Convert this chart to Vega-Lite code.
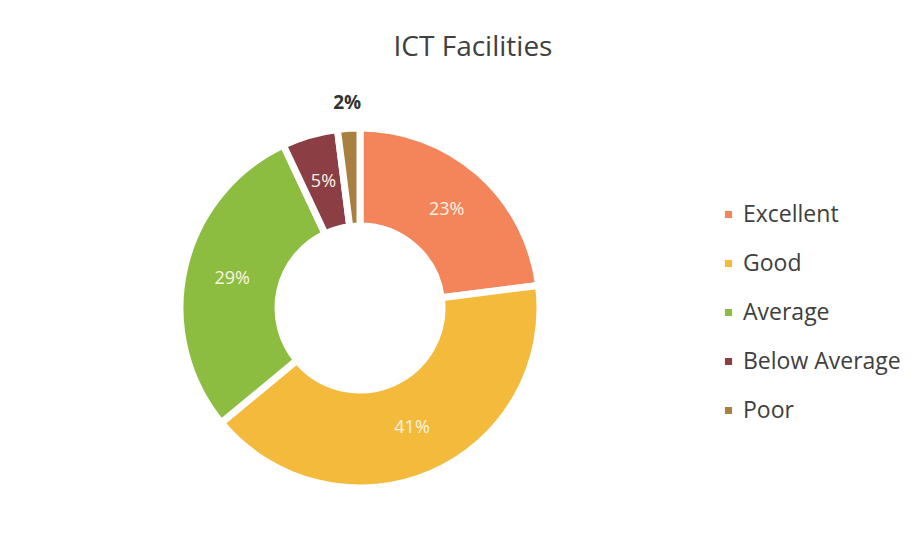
{
  "$schema": "https://vega.github.io/schema/vega-lite/v6.json",
  "autosize": "none",
  "width": 720,
  "height": 500,
  "padding": {"left": 0, "top": 58, "right": 204, "bottom": 0},
  "background": "white",
  "title": {
    "text": "ICT Facilities",
    "anchor": "middle",
    "dx": 113,
    "offset": -4,
    "fontSize": 28,
    "font": "Open Sans",
    "fontWeight": "normal",
    "color": "#404040"
  },
  "data": {
    "values": [
      {"category": "Excellent", "share": 0.23, "rank": 1},
      {"category": "Good", "share": 0.41, "rank": 2},
      {"category": "Average", "share": 0.29, "rank": 3},
      {"category": "Below Average", "share": 0.05, "rank": 4},
      {"category": "Poor", "share": 0.02, "rank": 5}
    ]
  },
  "encoding": {
    "theta": {"field": "share", "type": "quantitative", "stack": true},
    "order": {"field": "rank", "type": "quantitative"}
  },
  "layer": [
    {
      "mark": {"type": "arc", "innerRadius": 82, "outerRadius": 180, "stroke": "white", "strokeWidth": 7},
      "encoding": {
        "color": {
          "field": "category",
          "type": "nominal",
          "sort": ["Excellent", "Good", "Average", "Below Average", "Poor"],
          "scale": {
            "domain": ["Excellent", "Good", "Average", "Below Average", "Poor"],
            "range": ["#f4845a", "#f3ba3c", "#8cbd40", "#8b3f44", "#a8803f"]
          },
          "legend": {
            "title": null,
            "orient": "none",
            "legendX": 717,
            "legendY": 145,
            "symbolType": "square",
            "symbolSize": 75,
            "labelFontSize": 23,
            "labelFont": "Open Sans",
            "labelColor": "#404040",
            "labelLimit": 300,
            "rowPadding": 25,
            "labelOffset": 3
          }
        }
      }
    },
    {
      "mark": {"type": "text", "radius": 131, "fontSize": 18, "font": "Open Sans", "fill": "#fbf3e4"},
      "encoding": {
        "text": {
          "condition": {"test": "datum.category === 'Poor'", "value": ""},
          "field": "share",
          "type": "quantitative",
          "format": ".0%"
        }
      }
    },
    {
      "mark": {"type": "text", "radius": 205, "fontSize": 19, "font": "Open Sans", "fontWeight": "bold", "fill": "#333333"},
      "encoding": {
        "text": {
          "condition": {"test": "datum.category !== 'Poor'", "value": ""},
          "field": "share",
          "type": "quantitative",
          "format": ".0%"
        }
      }
    }
  ]
}
